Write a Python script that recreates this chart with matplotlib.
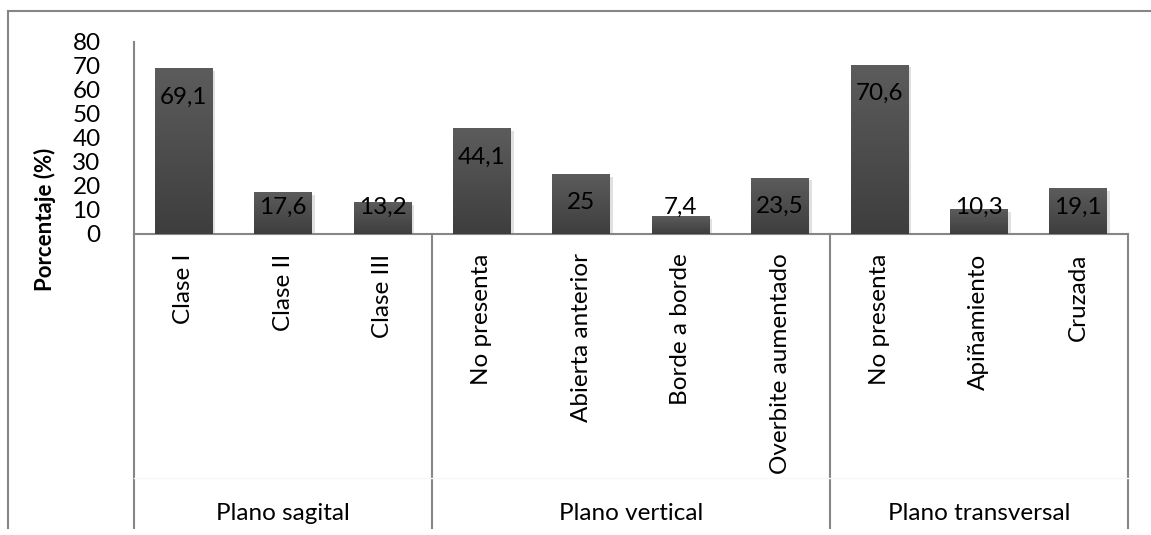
import matplotlib
matplotlib.use("Agg")
import matplotlib.pyplot as plt
import numpy as np
from matplotlib.lines import Line2D
from matplotlib.colors import LinearSegmentedColormap
import matplotlib.patheffects as pe

plt.rcParams['font.family'] = ['Lato', 'DejaVu Sans']

categorias = ['Clase I', 'Clase II', 'Clase III',
              'No presenta', 'Abierta anterior', 'Borde a borde', 'Overbite aumentado',
              'No presenta', 'Apiñamiento', 'Cruzada']
porcentajes = [69.1, 17.6, 13.2, 44.1, 25, 7.4, 23.5, 70.6, 10.3, 19.1]
etiquetas = ['69,1', '17,6', '13,2', '44,1', '25', '7,4', '23,5', '70,6', '10,3', '19,1']
grupos = ['Plano sagital', 'Plano vertical', 'Plano transversal']
tam_grupos = [3, 4, 3]

W, H = 1151, 535
fs = 17.5
fig = plt.figure(figsize=(W / 100, H / 100), dpi=100)

# eje en pixeles: x 134..1128, y 42..234
ax = fig.add_axes([134 / W, (H - 234) / H, (1128 - 134) / W, (234 - 42) / H])

x = np.arange(len(porcentajes))
ancho = 0.58
gris = '#868686'

cmap = LinearSegmentedColormap.from_list('barra', ['#3e3e3e', '#5c5c5c'])
grad = np.linspace(0, 1, 100).reshape(-1, 1)

barras = ax.bar(x, porcentajes, width=ancho, color='#4a4a4a', zorder=2,
                path_effects=[pe.SimplePatchShadow(offset=(2, -2), shadow_rgbFace='#000000', alpha=0.12),
                              pe.Normal()])
for b, v in zip(barras, porcentajes):
    x0 = b.get_x()
    im = ax.imshow(grad, extent=[x0, x0 + ancho, 0, v], origin='lower', aspect='auto',
                   cmap=cmap, zorder=3)
    im.set_clip_path(b)

for xi, v, txt in zip(x, porcentajes, etiquetas):
    ax.text(xi, max(v - 12, 11.3), txt, ha='center', va='center', fontsize=fs,
            color='black', zorder=4)

ax.set_xlim(-0.5, len(porcentajes) - 0.5)
ax.set_ylim(0, 80)
ax.set_yticks(range(0, 81, 10))
ax.tick_params(axis='y', length=0, pad=24, labelsize=fs)
ax.set_xticks(x)
ax.set_xticklabels(categorias, rotation=90, fontsize=fs, va='top', ha='center')
ax.tick_params(axis='x', length=0, pad=14)

for s in ['top', 'right']:
    ax.spines[s].set_visible(False)
for s in ['left', 'bottom']:
    ax.spines[s].set_color(gris)
    ax.spines[s].set_linewidth(1.5)

# separadores de grupo bajo el eje
tr = ax.get_xaxis_transform()
bordes = np.concatenate([[0], np.cumsum(tam_grupos)]) - 0.5
y_fondo = (234 - 528) / (234 - 42)
for b in bordes:
    ax.plot([b, b], [0, y_fondo], color=gris, lw=1.5, transform=tr, clip_on=False)
ax.plot([bordes[0], bordes[-1]], [(234 - 478) / 192] * 2, color='#f7f7f7', lw=1,
        transform=tr, clip_on=False)

y_grupo = (234 - 513) / 192
for i, g in enumerate(grupos):
    centro = (bordes[i] + bordes[i + 1]) / 2
    ax.text(centro, y_grupo, g, ha='center', va='center', fontsize=fs, transform=tr)

fig.text(45 / W, (H - 219) / H, 'Porcentaje (%)', rotation=90, ha='center', va='center',
         fontsize=16, fontweight='bold')

# marco exterior
fig.add_artist(Line2D([8 / W, 1], [(H - 11) / H] * 2, color=gris, lw=1.5))
fig.add_artist(Line2D([8 / W, 8 / W], [(H - 11) / H, (H - 528) / H], color=gris, lw=1.5))

fig.savefig('out.png', dpi=100)
